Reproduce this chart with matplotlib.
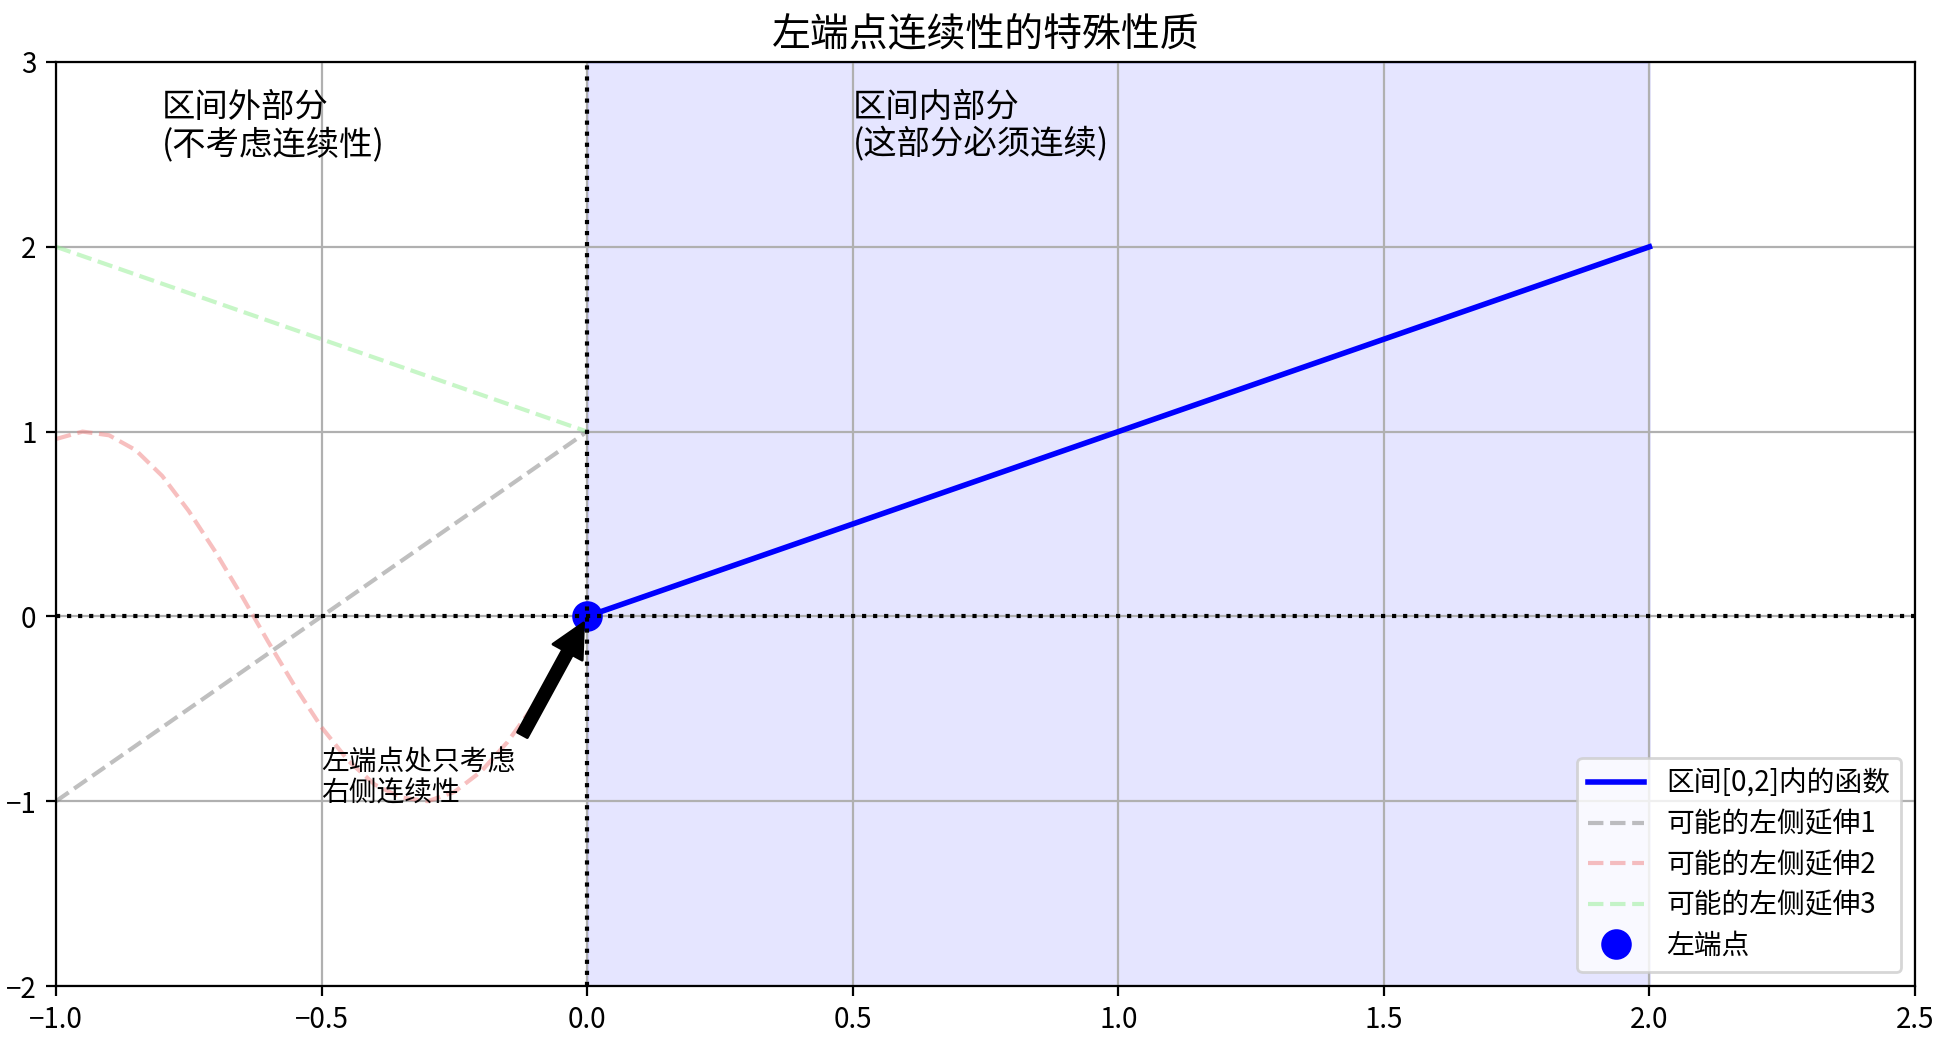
import numpy as np
import matplotlib
matplotlib.use("Agg")
import matplotlib.pyplot as plt

plt.rcParams['font.family'] = ['Noto Sans CJK SC', 'DejaVu Sans']
plt.rcParams['axes.unicode_minus'] = True

# function inside [0, 2]
x_in = [0.0, 2.0]
y_in = [0.0, 2.0]

# possible left extensions
x_ext1 = [-1.0, 0.0]
y_ext1 = [-1.0, 1.0]

x_ext2 = [-1.00, -0.95, -0.90, -0.85, -0.80, -0.75, -0.70, -0.65, -0.60, -0.55, -0.50,
          -0.45, -0.40, -0.35, -0.30, -0.25, -0.20, -0.15, -0.10, -0.05, 0.00]
y_ext2 = [0.96, 1.00, 0.98, 0.90, 0.76, 0.57, 0.35, 0.11, -0.14, -0.38, -0.60,
          -0.78, -0.91, -0.98, -1.00, -0.95, -0.84, -0.68, -0.48, -0.25, 0.00]

x_ext3 = [-1.0, 0.0]
y_ext3 = [2.0, 1.0]

left_pt = (0.0, 0.0)

W, H, DPI = 1949, 1044, 200
fig = plt.figure(figsize=(W / DPI, H / DPI), dpi=DPI)
ax = fig.add_axes([56 / W, (H - 986) / H, 1859 / W, 924 / H])

ax.axvspan(0, 2, alpha=0.1, color='blue')
ax.plot(x_in, y_in, 'b-', linewidth=2, label='区间[0,2]内的函数')
ax.plot(x_ext1, y_ext1, '--', color='gray', alpha=0.5, linewidth=1.5, label='可能的左侧延伸1')
ax.plot(x_ext2, y_ext2, '--', color='lightcoral', alpha=0.5, linewidth=1.5, label='可能的左侧延伸2')
ax.plot(x_ext3, y_ext3, '--', color='lightgreen', alpha=0.5, linewidth=1.5, label='可能的左侧延伸3')
ax.plot(left_pt[0], left_pt[1], 'bo', markersize=10, label='左端点')

ax.axhline(0, color='k', linestyle=':', linewidth=1.5)
ax.axvline(0, color='k', linestyle=':', linewidth=1.5)

ax.annotate('左端点处只考虑\n右侧连续性', xy=left_pt, xytext=(-0.5, -1),
            arrowprops=dict(facecolor='black', shrink=0.05), fontsize=10,
            linespacing=1.05)
ax.text(-0.8, 2.5, '区间外部分\n(不考虑连续性)', fontsize=12, linespacing=1.08)
ax.text(0.5, 2.5, '区间内部分\n(这部分必须连续)', fontsize=12, linespacing=1.08)

ax.set_xlim(-1, 2.5)
ax.set_ylim(-2, 3)
ax.grid(True)
ax.legend(loc='lower right', fontsize=10, labelspacing=0.38)
ax.set_title('左端点连续性的特殊性质', fontsize=14)

fig.savefig('out.png', dpi=DPI)
